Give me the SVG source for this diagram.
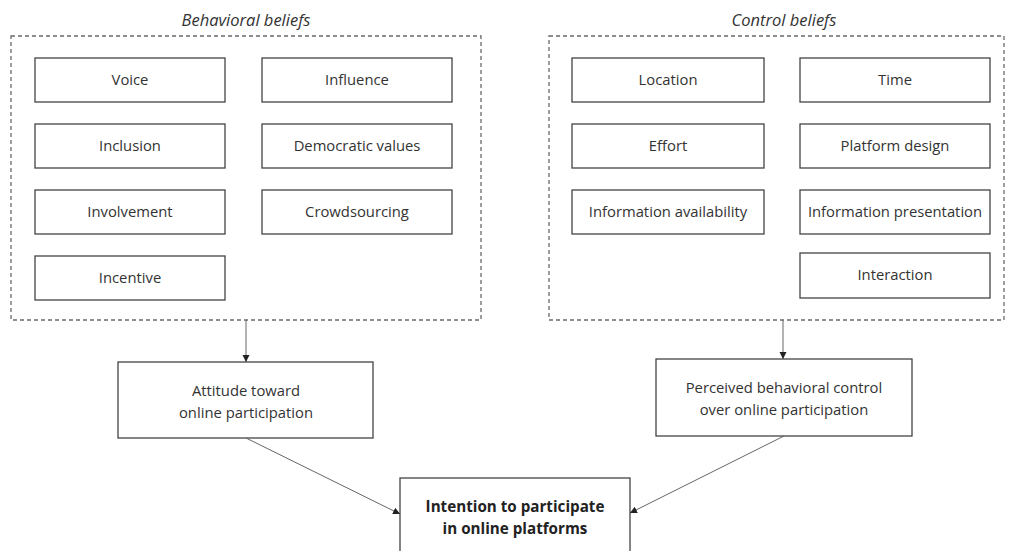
<svg xmlns="http://www.w3.org/2000/svg" width="1009" height="551" viewBox="0 0 1009 551">
<style>
.bg{fill:#fff}
.grp{fill:none;stroke:#6a6a6a;stroke-width:1.3;stroke-dasharray:4 3}
.box{fill:#fff;stroke:#444;stroke-width:1.3}
.t{font-family:"Open Sans","Liberation Sans",sans-serif;font-size:14.8px;fill:#333;text-anchor:middle}
.ti{font-family:"Open Sans","Liberation Sans",sans-serif;font-size:16.5px;font-style:italic;fill:#333;text-anchor:middle}
.tb{font-family:"Open Sans","Liberation Sans",sans-serif;font-size:15.2px;font-weight:bold;fill:#222;text-anchor:middle}
.c{fill:none;stroke:#666;stroke-width:1;marker-end:url(#ah)}
</style>
<defs>
<marker id="ah" markerWidth="8" markerHeight="8" refX="7" refY="4" orient="auto" markerUnits="userSpaceOnUse">
<path d="M0,0.5 L7,4 L0,7.5 Z" fill="#222"/>
</marker>
</defs>
<rect class="bg" x="0" y="0" width="1009" height="551"/>
<g id="behavioral-beliefs">
<text class="ti" x="246" y="26">Behavioral beliefs</text>
<rect class="grp" x="11" y="36" width="470" height="284"/>
</g>
<g id="control-beliefs">
<text class="ti" x="784" y="26">Control beliefs</text>
<rect class="grp" x="549" y="36" width="455" height="284"/>
</g>
<g id="voice"><rect class="box" x="35" y="58" width="190" height="44"/><text class="t" x="130" y="85">Voice</text></g>
<g id="influence"><rect class="box" x="262" y="58" width="190" height="44"/><text class="t" x="357" y="85">Influence</text></g>
<g id="inclusion"><rect class="box" x="35" y="124" width="190" height="44"/><text class="t" x="130" y="151">Inclusion</text></g>
<g id="democratic-values"><rect class="box" x="262" y="124" width="190" height="44"/><text class="t" x="357" y="151">Democratic values</text></g>
<g id="involvement"><rect class="box" x="35" y="190" width="190" height="44"/><text class="t" x="130" y="217">Involvement</text></g>
<g id="crowdsourcing"><rect class="box" x="262" y="190" width="190" height="44"/><text class="t" x="357" y="217">Crowdsourcing</text></g>
<g id="incentive"><rect class="box" x="35" y="256" width="190" height="44"/><text class="t" x="130" y="283">Incentive</text></g>
<g id="location"><rect class="box" x="572" y="58" width="192" height="44"/><text class="t" x="668" y="85">Location</text></g>
<g id="time"><rect class="box" x="800" y="58" width="190" height="44"/><text class="t" x="895" y="85">Time</text></g>
<g id="effort"><rect class="box" x="572" y="124" width="192" height="44"/><text class="t" x="668" y="151">Effort</text></g>
<g id="platform-design"><rect class="box" x="800" y="124" width="190" height="44"/><text class="t" x="895" y="151">Platform design</text></g>
<g id="information-availability"><rect class="box" x="572" y="190" width="192" height="44"/><text class="t" x="668" y="217">Information availability</text></g>
<g id="information-presentation"><rect class="box" x="800" y="190" width="190" height="44"/><text class="t" x="895" y="217">Information presentation</text></g>
<g id="interaction"><rect class="box" x="800" y="253" width="190" height="45"/><text class="t" x="895" y="280">Interaction</text></g>
<g id="attitude"><rect class="box" x="118" y="362" width="255" height="76"/><text class="t" x="246" y="396">Attitude toward</text><text class="t" x="246" y="418">online participation</text></g>
<g id="pbc"><rect class="box" x="656" y="359" width="256" height="77"/><text class="t" x="784" y="393">Perceived behavioral control</text><text class="t" x="784" y="415">over online participation</text></g>
<g id="intention"><rect class="box" x="400" y="478" width="230" height="80"/><text class="tb" x="515" y="512">Intention to participate</text><text class="tb" x="515" y="534">in online platforms</text></g>
<g id="connectors">
<line class="c" x1="246" y1="320" x2="246" y2="362"/>
<line class="c" x1="783" y1="320" x2="783" y2="359"/>
<line class="c" x1="246" y1="438" x2="400" y2="514"/>
<line class="c" x1="784" y1="436" x2="630" y2="513"/>
</g>
</svg>
